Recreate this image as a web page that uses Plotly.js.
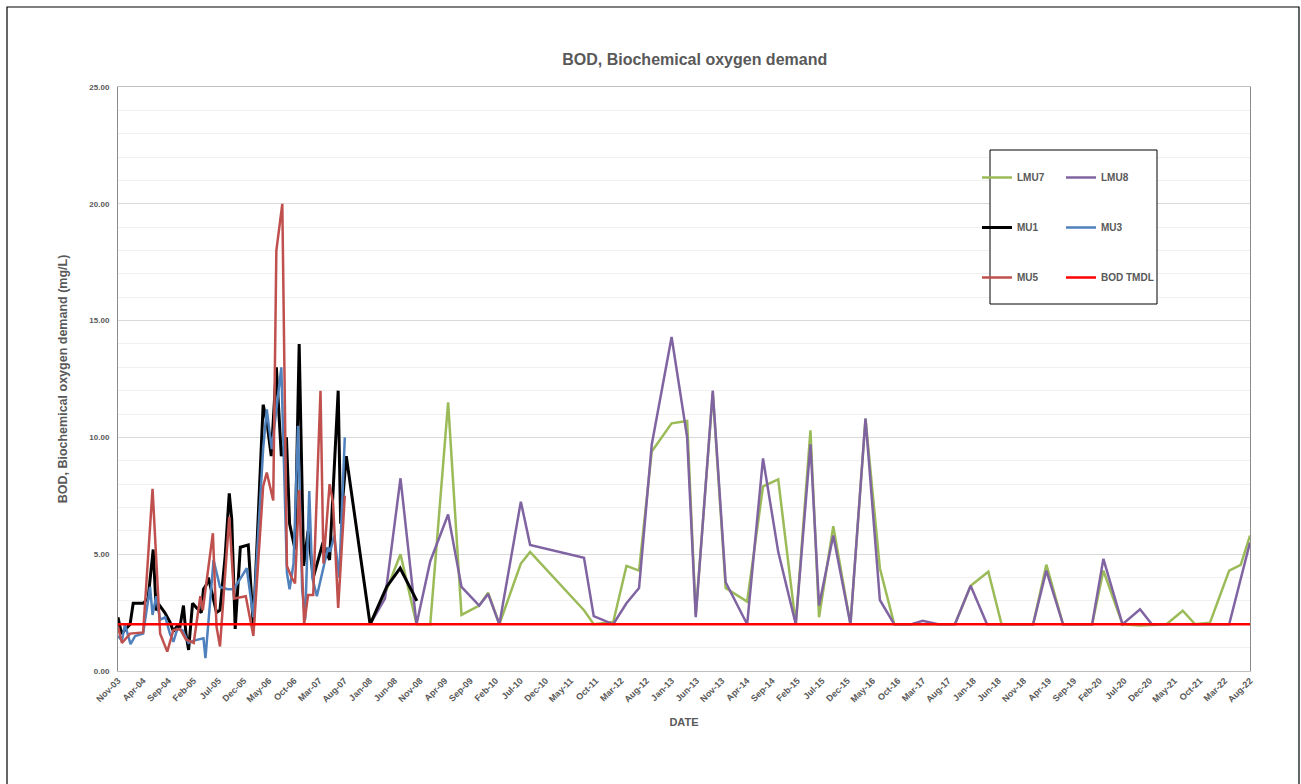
<!DOCTYPE html>
<html><head><meta charset="utf-8">
<script src="https://cdn.plot.ly/plotly-3.0.1.min.js"></script>
<style>html,body{margin:0;padding:0;background:#fff;} #chart{width:1301px;height:784px;}</style>
</head><body><div id="chart"></div>
<script>
// ---- DATA ----
const lmu7Dates = ['2008-01-04','2008-04-03','2008-07-06','2008-10-11','2009-01-02','2009-04-20','2009-07-10','2009-10-25','2009-12-18','2010-02-24','2010-07-04','2010-08-29','2011-07-21','2011-09-18','2012-01-14','2012-04-03','2012-06-18','2012-09-03','2013-01-01','2013-04-05','2013-05-27','2013-09-07','2013-11-24','2014-04-03','2014-07-08','2014-10-08','2015-01-22','2015-04-21','2015-06-12','2015-09-06','2015-12-19','2016-03-19','2016-06-14','2016-09-09','2016-12-23','2017-06-01','2017-09-11','2017-12-15','2018-04-01','2018-06-20','2018-12-28','2019-03-18','2019-06-27','2019-12-20','2020-02-26','2020-06-21','2020-10-05','2021-03-14','2021-06-20','2021-09-03','2021-12-02','2022-03-28','2022-06-06','2022-08-01'];
const lmu7Values = [2.0,3.3,5.0,2.0,2.0,11.5,2.4,2.8,3.35,2.0,4.6,5.1,2.6,2.0,2.1,4.5,4.3,9.4,10.6,10.7,2.4,11.9,3.55,2.97,7.9,8.2,2.0,10.3,2.3,6.2,2.0,10.8,4.4,2.0,2.0,2.0,2.0,3.65,4.25,2.0,2.0,4.55,2.0,2.0,4.3,2.0,1.95,2.0,2.58,2.0,2.07,4.3,4.54,5.8];

const lmu8Dates = ['2008-01-04','2008-04-03','2008-07-06','2008-10-11','2009-01-02','2009-04-20','2009-07-10','2009-10-25','2009-12-18','2010-02-24','2010-07-04','2010-08-29','2011-07-21','2011-09-18','2012-01-14','2012-04-03','2012-06-18','2012-09-03','2013-01-01','2013-04-05','2013-05-27','2013-09-07','2013-11-24','2014-04-03','2014-07-08','2014-10-08','2015-01-22','2015-04-21','2015-06-12','2015-09-06','2015-12-19','2016-03-19','2016-06-14','2016-09-09','2016-12-23','2017-02-28','2017-06-01','2017-09-11','2017-12-15','2018-03-24','2018-12-28','2019-03-18','2019-06-27','2019-12-20','2020-02-26','2020-06-21','2020-10-05','2020-12-15','2022-03-28','2022-08-01'];
const lmu8Values = [2.0,3.1,8.25,2.0,4.7,6.7,3.6,2.8,3.3,2.0,7.25,5.4,4.85,2.35,2.0,2.9,3.55,9.7,14.3,10.0,2.3,12.0,3.8,2.0,9.1,5.1,2.0,9.7,2.8,5.8,2.0,10.8,3.04,2.0,2.0,2.15,2.0,2.0,3.65,2.0,2.0,4.3,2.0,2.0,4.8,2.0,2.64,2.0,2.0,5.5];

const mu1Dates = ['2003-11-01','2003-11-22','2004-01-13','2004-02-01','2004-04-01','2004-05-01','2004-06-01','2004-06-19','2004-07-10','2004-08-10','2004-09-10','2004-10-01','2004-10-22','2004-11-10','2004-12-01','2004-12-16','2005-01-01','2005-01-25','2005-02-19','2005-03-19','2005-04-01','2005-04-19','2005-05-01','2005-06-19','2005-07-10','2005-08-10','2005-09-04','2005-09-19','2005-10-10','2005-11-10','2005-12-28','2006-01-28','2006-03-28','2006-04-19','2006-05-16','2006-06-16','2006-07-16','2006-08-16','2006-09-04','2006-10-07','2006-11-01','2006-11-28','2006-12-25','2007-01-25','2007-03-25','2007-05-04','2007-06-25','2007-07-10','2007-08-13','2008-01-04','2008-04-13','2008-07-04','2008-10-13'];
const mu1Values = [2.3,1.6,2.0,2.9,2.9,3.1,5.2,2.6,2.8,2.5,2.1,1.7,1.9,1.9,2.8,1.6,0.9,2.9,2.7,2.5,3.5,3.7,4.0,2.5,2.6,4.9,7.6,6.5,1.8,5.3,5.4,1.9,11.4,10.7,9.2,13.0,9.2,10.0,6.3,5.2,14.0,4.5,6.0,4.0,5.5,4.75,12.0,6.3,9.2,2.0,3.6,4.4,3.0];

const mu3Dates = ['2003-11-01','2003-11-25','2003-12-13','2004-01-16','2004-02-13','2004-04-01','2004-05-13','2004-05-28','2004-06-19','2004-07-13','2004-08-13','2004-09-10','2004-10-01','2004-10-25','2004-11-25','2005-01-01','2005-02-01','2005-04-01','2005-04-13','2005-06-01','2005-07-10','2005-08-25','2005-10-01','2005-12-19','2006-01-28','2006-03-28','2006-04-19','2006-05-19','2006-07-16','2006-08-19','2006-09-04','2006-09-28','2006-10-25','2006-11-19','2006-12-07','2007-01-01','2007-01-19','2007-02-16','2007-04-25','2007-05-07','2007-06-01','2007-07-01','2007-08-04'];
const mu3Values = [1.5,1.3,2.0,1.15,1.5,1.6,3.6,2.4,3.2,2.2,2.3,1.6,1.25,1.8,1.75,1.2,1.3,1.4,0.55,4.75,3.6,3.5,3.5,4.4,2.3,9.5,11.2,9.5,13.0,4.2,3.5,4.6,10.5,3.5,2.2,7.7,4.0,3.2,5.3,5.1,5.8,4.0,10.0];

const mu5Dates = ['2003-11-01','2003-11-25','2004-01-13','2004-04-01','2004-05-28','2004-07-13','2004-08-25','2004-10-01','2004-11-10','2004-12-16','2005-02-01','2005-03-13','2005-03-28','2005-05-28','2005-06-19','2005-07-10','2005-09-04','2005-10-04','2005-12-13','2006-01-28','2006-03-28','2006-04-19','2006-05-28','2006-06-16','2006-07-22','2006-08-19','2006-09-16','2006-10-07','2006-11-01','2006-12-01','2006-12-25','2007-01-25','2007-03-10','2007-03-28','2007-05-04','2007-05-25','2007-06-25','2007-08-04'];
const mu5Values = [1.9,1.2,1.6,1.65,7.8,1.6,0.83,1.75,1.8,1.35,1.2,3.2,2.6,5.9,1.9,1.05,6.6,3.1,3.2,1.5,7.9,8.5,7.3,18.0,20.0,4.5,4.0,3.75,7.75,2.0,3.25,3.25,12.0,4.6,8.0,7.2,2.7,7.5];

const tmdlDates = ['2003-11-01','2022-08-01'];
const tmdlValues = [2.0,2.0];

const seriesNames = ['LMU7','LMU8','MU1','MU3','MU5','BOD TMDL'];

// ---- CHART ----
const FONT = 'Liberation Sans, Arial, sans-serif';
const GREY = '#595959';
function tr(x, y, name, color, width, legend) {
  return {type:'scatter', mode:'lines', x:x, y:y, name:name, legend:legend, legendgroup:name,
          line:{color:color, width:width}, hoverinfo:'x+y+name'};
}
const data = [
  tr(lmu7Dates, lmu7Values, seriesNames[0], '#9BBB59', 2.5, 'legend'),
  tr(lmu8Dates, lmu8Values, seriesNames[1], '#8064A2', 2.5, 'legend2'),
  tr(mu1Dates, mu1Values, seriesNames[2], '#000000', 3, 'legend'),
  tr(mu3Dates, mu3Values, seriesNames[3], '#4F81BD', 2.5, 'legend2'),
  tr(mu5Dates, mu5Values, seriesNames[4], '#C0504D', 2.5, 'legend'),
  tr(tmdlDates, tmdlValues, seriesNames[5], '#FF0000', 2.5, 'legend2')
];
const legFont = {family:FONT, size:10, color:GREY, weight:'bold'};
const layout = {
  width:1301, height:784,
  margin:{l:118, r:51, t:87, b:113},
  paper_bgcolor:'#ffffff', plot_bgcolor:'#ffffff',
  font:{family:FONT, color:GREY},
  title:{text:'BOD, Biochemical oxygen demand', x:0.534, xref:'container', xanchor:'center',
         y:1-59/784, yref:'container', yanchor:'middle',
         font:{family:FONT, size:16, color:GREY, weight:'bold'}},
  xaxis:{type:'date', range:['2003-11-01','2022-08-01'], tick0:'2003-11-01', dtick:'M5',
         tickformat:'%b-%y', tickangle:-45, ticks:'', showgrid:false, zeroline:false,
         showline:true, linecolor:'#bfbfbf', linewidth:1, mirror:true,
         tickfont:{family:FONT, size:9, color:GREY, weight:'bold'},
         title:{text:'DATE', standoff:14, font:{family:FONT, size:11, color:GREY, weight:'bold'}}},
  yaxis:{range:[0,25], dtick:5, tickformat:'.2f', ticks:'', zeroline:false,
         gridcolor:'#d9d9d9', gridwidth:1,
         minor:{dtick:1, showgrid:true, gridcolor:'#f0f0f0', gridwidth:1},
         showline:true, linecolor:'#8c8c8c', linewidth:1, mirror:true,
         ticklabelstandoff:6,
         tickfont:{family:FONT, size:8, color:GREY, weight:'bold'},
         title:{text:'BOD, Biochemical oxygen demand (mg/L)', standoff:18,
                font:{family:FONT, size:12.5, color:GREY, weight:'bold'}}},
  showlegend:true,
  legend:{x:(977-118)/1132, xanchor:'left', y:(671-163)/584, yanchor:'top',
          bgcolor:'rgba(0,0,0,0)', borderwidth:0, font:legFont,
          traceorder:'grouped', tracegroupgap:31, itemwidth:30},
  legend2:{x:(1061-118)/1132, xanchor:'left', y:(671-163)/584, yanchor:'top',
          bgcolor:'rgba(0,0,0,0)', borderwidth:0, font:legFont,
          traceorder:'grouped', tracegroupgap:31, itemwidth:30},
  shapes:[
    {type:'rect', xref:'paper', yref:'paper', x0:(990-118)/1132, x1:(1157-118)/1132,
     y0:(671-304)/584, y1:(671-150)/584, fillcolor:'#ffffff', line:{color:'#000000', width:1}, layer:'above'},
    {type:'rect', xref:'paper', yref:'paper', x0:(7-118)/1132, x1:(1299-118)/1132,
     y0:(671-800)/584, y1:(671-7)/584, fillcolor:'rgba(0,0,0,0)', line:{color:'#000000', width:1.2}, layer:'above'}
  ]
};
Plotly.newPlot('chart', data, layout, {displayModeBar:false, staticPlot:true});
</script>
</body></html>
